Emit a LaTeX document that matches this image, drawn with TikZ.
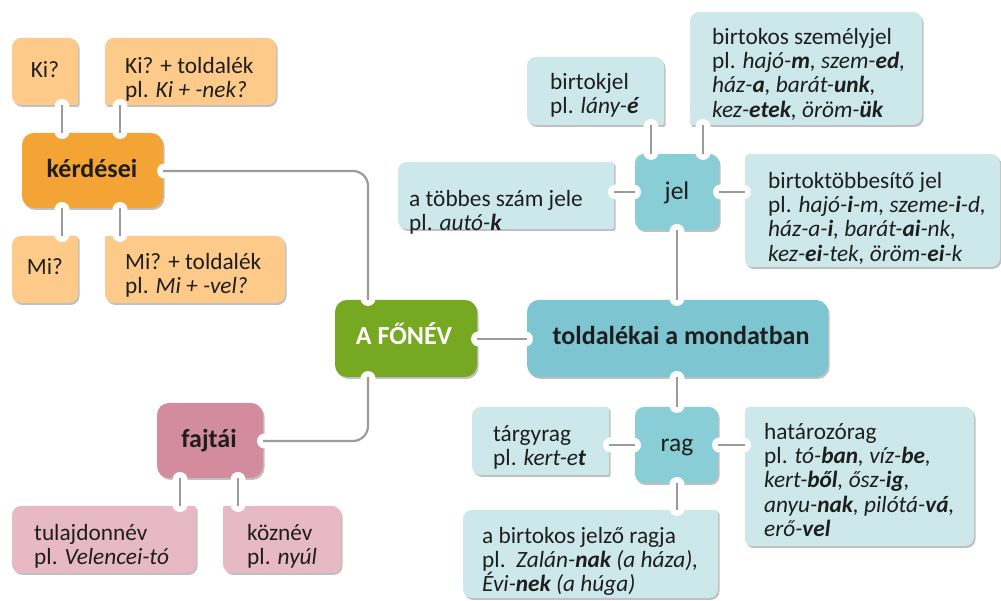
\documentclass[tikz,border=0pt]{standalone}
\usepackage{fontspec}
\setmainfont{Carlito}
\usetikzlibrary{shadows}
\definecolor{orD}{HTML}{F4A434}
\definecolor{orL}{HTML}{FDCA8A}
\definecolor{grD}{HTML}{77A822}
\definecolor{tlD}{HTML}{7CC5D1}
\definecolor{tlM}{HTML}{89CDD7}
\definecolor{tlL}{HTML}{CDE8EB}
\definecolor{pkD}{HTML}{D28C9E}
\definecolor{pkL}{HTML}{E7B9C4}
\definecolor{lnC}{HTML}{9B9B9B}
\definecolor{txC}{HTML}{1E1E1E}
\newcommand\pbox[9]{\fill[#1] (#2+#6,601-#3) -- (#4-#7,601-#3) arc[start angle=90,end angle=0,radius=#7] -- (#4,601-#5+#8) arc[start angle=0,end angle=-90,radius=#8] -- (#2+#9,601-#5) arc[start angle=-90,end angle=-180,radius=#9] -- (#2,601-#3-#6) arc[start angle=180,end angle=90,radius=#6] -- cycle;}
\newcommand\ntch[5]{\coordinate (#1) at (#2,601-#3); \fill[white] ([shift={(#4,#5)}]#1) circle[radius=7.5];}
\newcommand\fs{\rule{0pt}{20pt}}
\tikzset{
  shd/.style={drop shadow={shadow xshift=1.5pt,shadow yshift=-2pt,opacity=.35,fill=black!70}},
  conn/.style={draw=lnC,line width=2.2pt},
  txt/.style={font=\fontsize{23.3}{24.3}\selectfont,align=left,anchor=north west,inner sep=0pt,text=txC},
  ctxt/.style={font=\fontsize{23.3}{24.3}\selectfont,anchor=base,inner sep=0pt,text=txC},
  btxt/.style={font=\fontsize{26}{28}\selectfont\bfseries,anchor=base,inner sep=0pt,text=txC},
  mtxt/.style={font=\fontsize{25.5}{28}\selectfont,anchor=base,inner sep=0pt,text=txC}
}
\begin{document}
\begin{tikzpicture}[x=1pt,y=1pt]
\useasboundingbox (0,0) rectangle (1001,601);
\fill[white] (0,0) rectangle (1001,601);
% ---- boxes
\pbox{orL,shd}{12}{38}{78}{105}{9}{9}{2}{9}
\pbox{orL,shd}{105}{38}{276}{105}{9}{9}{9}{2}
\pbox{orD,shd}{22}{133}{163}{208}{12}{12}{12}{12}
\pbox{orL,shd}{12}{236}{78}{303}{9}{2}{9}{9}
\pbox{orL,shd}{105}{236}{285}{303}{2}{9}{9}{9}
\pbox{grD,shd}{335}{300}{477}{377}{12}{12}{12}{12}
\pbox{tlD,shd}{527}{300}{828}{377}{12}{12}{12}{12}
\pbox{tlL,shd}{527}{57}{664}{125}{9}{9}{2}{9}
\pbox{tlL,shd}{690}{12}{922}{125}{9}{9}{9}{2}
\pbox{tlL,shd}{398}{162}{614}{229}{9}{2}{2}{9}
\pbox{tlM,shd}{635}{154}{719}{230}{9}{9}{9}{9}
\pbox{tlL,shd}{745}{154}{1000}{267}{4}{9}{9}{7}
\pbox{tlL,shd}{472}{407}{609}{475}{9}{2}{2}{9}
\pbox{tlM,shd}{635}{407}{718}{483}{9}{9}{9}{9}
\pbox{tlL,shd}{745}{407}{974}{546}{4}{9}{9}{7}
\pbox{tlL,shd}{463}{510}{718}{598}{9}{2}{9}{9}
\pbox{pkD,shd}{157}{403}{263}{478}{12}{12}{12}{12}
\pbox{pkL,shd}{12}{506}{196}{573}{9}{2}{9}{9}
\pbox{pkL,shd}{223}{506}{341}{573}{2}{9}{9}{9}
% ---- notches (connection points)
\ntch{ki-b}{62}{105}{0}{-1.5}
\ntch{kit-b}{120}{105}{0}{-1.5}
\ntch{kerd-t1}{62}{133}{0}{1.5}
\ntch{kerd-t2}{120}{133}{0}{1.5}
\ntch{kerd-b1}{62}{208}{0}{-1.5}
\ntch{kerd-b2}{120}{208}{0}{-1.5}
\ntch{kerd-r}{163}{171}{1.5}{0}
\ntch{mi-t}{62}{236}{0}{1.5}
\ntch{mit-t}{120}{236}{0}{1.5}
\ntch{fonev-t}{368}{300}{0}{1.5}
\ntch{fonev-b}{368}{377}{0}{-1.5}
\ntch{fonev-r}{477}{339}{1.5}{0}
\ntch{told-l}{527}{339}{-1.5}{0}
\ntch{told-t}{677}{300}{0}{1.5}
\ntch{told-b}{677}{377}{0}{-1.5}
\ntch{bj-b}{651}{125}{0}{-1.5}
\ntch{sz-b}{703}{125}{0}{-1.5}
\ntch{tb-r}{614}{192}{1.5}{0}
\ntch{jel-t1}{651}{154}{0}{1.5}
\ntch{jel-t2}{703}{154}{0}{1.5}
\ntch{jel-l}{635}{192}{-1.5}{0}
\ntch{jel-r}{719}{192}{1.5}{0}
\ntch{jel-b}{677}{230}{0}{-1.5}
\ntch{bt-l}{745}{192}{-1.5}{0}
\ntch{tg-r}{609}{445}{1.5}{0}
\ntch{rag-t}{677}{407}{0}{1.5}
\ntch{rag-l}{635}{445}{-1.5}{0}
\ntch{rag-r}{718}{445}{1.5}{0}
\ntch{rag-b}{677}{483}{0}{-1.5}
\ntch{hr-l}{745}{445}{-1.5}{0}
\ntch{jz-t}{677}{510}{0}{1.5}
\ntch{fj-r}{263}{441}{1.5}{0}
\ntch{fj-b1}{180}{478}{0}{-1.5}
\ntch{fj-b2}{238}{478}{0}{-1.5}
\ntch{tu-t}{180}{506}{0}{1.5}
\ntch{kz-t}{238}{506}{0}{1.5}
% ---- connectors
\draw[conn] (ki-b) -- (kerd-t1);
\draw[conn] (kit-b) -- (kerd-t2);
\draw[conn] (kerd-b1) -- (mi-t);
\draw[conn] (kerd-b2) -- (mit-t);
\draw[conn,rounded corners=15pt] (kerd-r) -| (fonev-t);
\draw[conn,rounded corners=15pt] (fj-r) -| (fonev-b);
\draw[conn] (fonev-r) -- (told-l);
\draw[conn] (bj-b) -- (jel-t1);
\draw[conn] (sz-b) -- (jel-t2);
\draw[conn] (tb-r) -- (jel-l);
\draw[conn] (jel-r) -- (bt-l);
\draw[conn] (jel-b) -- (told-t);
\draw[conn] (told-b) -- (rag-t);
\draw[conn] (tg-r) -- (rag-l);
\draw[conn] (rag-r) -- (hr-l);
\draw[conn] (rag-b) -- (jz-t);
\draw[conn] (fj-b1) -- (tu-t);
\draw[conn] (fj-b2) -- (kz-t);
% ---- texts
\node[ctxt] (tki) at (45,601-78) {Ki?};
\node[txt] (tkit) at (125,615-67) {\fs Ki? + toldalék\\pl. \textit{Ki + -nek?}};
\node[btxt] (tkerd) at (92,601-178) {kérdései};
\node[ctxt] (tmi) at (45,601-275) {Mi?};
\node[txt] (tmit) at (125,615-263) {\fs Mi? + toldalék\\pl. \textit{Mi + -vel?}};
\node[btxt,text=white] (tfonev) at (404,601-345) {A FŐNÉV};
\node[btxt] (ttold) at (681,601-345) {toldalékai a mondatban};
\node[txt] (tbj) at (550,615-83) {\fs birtokjel\\pl. \textit{lány-\textbf{é}}};
\node[txt] (tsz) at (712,615-38) {\fs birtokos személyjel\\pl. \textit{hajó-\textbf{m}, szem-\textbf{ed},}\\\textit{ház-\textbf{a}, barát-\textbf{unk},}\\\textit{kez-\textbf{etek}, öröm-\textbf{ük}}};
\node[txt] (ttb) at (409,615-200) {\fs a többes szám jele\\pl. \textit{autó-\textbf{k}}};
\node[mtxt] (tjel) at (677,601-200) {jel};
\node[txt] (tbt) at (768,615-182) {\fs birtoktöbbesítő jel\\pl. \textit{hajó-\textbf{i}-m, szeme-\textbf{i}-d,}\\\textit{ház-a-\textbf{i}, barát-\textbf{ai}-nk,}\\\textit{kez-\textbf{ei}-tek, öröm-\textbf{ei}-k}};
\node[txt] (ttg) at (493,615-435) {\fs tárgyrag\\pl. \textit{kert-e\textbf{t}}};
\node[mtxt] (trag) at (677,601-452) {rag};
\node[txt] (thr) at (764,615-433) {\fs határozórag\\pl. \textit{tó-\textbf{ban}, víz-\textbf{be},}\\\textit{kert-\textbf{ből}, ősz-\textbf{ig},}\\\textit{anyu-\textbf{nak}, pilótá-\textbf{vá},}\\\textit{erő-\textbf{vel}}};
\node[txt] (tjz) at (482,615-537) {\fs a birtokos jelző ragja\\pl.\ \ \textit{Zalán-\textbf{nak} (a háza),}\\\textit{Évi-\textbf{nek} (a húga)}};
\node[btxt] (tfj) at (209,601-448) {fajtái};
\node[txt] (ttu) at (34,615-534) {\fs tulajdonnév\\pl. \textit{Velencei-tó}};
\node[txt] (tkz) at (247,615-534) {\fs köznév\\pl. \textit{nyúl}};
\end{tikzpicture}
\end{document}
